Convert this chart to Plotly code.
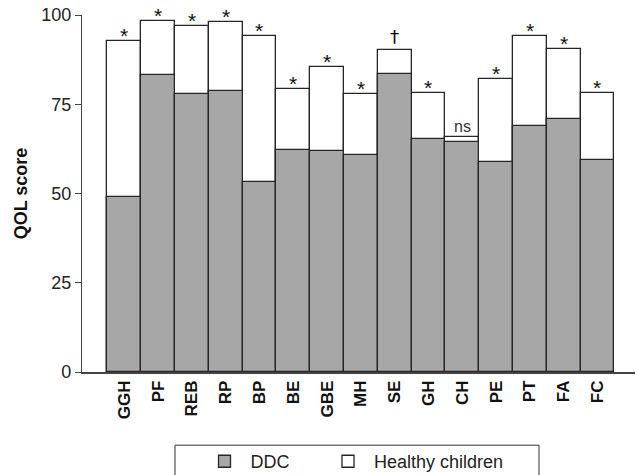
import plotly.graph_objects as go

categories = ["GGH", "PF", "REB", "RP", "BP", "BE", "GBE", "MH", "SE", "GH", "CH", "PE", "PT", "FA", "FC"]
ddc = [49.0, 83.2, 77.9, 78.6, 53.1, 62.2, 61.9, 60.8, 83.5, 65.4, 64.5, 58.9, 68.9, 70.9, 59.5]
healthy = [92.8, 98.4, 97.0, 98.1, 94.1, 79.4, 85.5, 77.9, 90.1, 78.1, 65.9, 82.1, 94.2, 90.5, 78.2]
signif = ["*", "*", "*", "*", "*", "*", "*", "*", "\u2020", "*", "ns", "*", "*", "*", "*"]

FONT = "Liberation Sans, Arial, Helvetica, sans-serif"
LINE = "#262626"

fig = go.Figure()
fig.add_trace(go.Bar(
    x=categories, y=healthy, name="Healthy children", legend="legend2",
    marker=dict(color="white", line=dict(color=LINE, width=1.3)),
    width=1,
))
fig.add_trace(go.Bar(
    x=categories, y=ddc, name="DDC", legend="legend",
    marker=dict(color="#a7a7a7", line=dict(color=LINE, width=1.3)),
    width=1,
))

for c, h, s in zip(categories, healthy, signif):
    if s == "*":
        fig.add_annotation(x=c, y=h, text=s, showarrow=False, yanchor="bottom",
                           yshift=-8, font=dict(size=21, color="#111", family=FONT))
    elif s == "ns":
        fig.add_annotation(x=c, y=h, text=s, showarrow=False, yanchor="bottom",
                           yshift=0, font=dict(size=16, color="#333", family=FONT))
    else:
        fig.add_annotation(x=c, y=h, text=s, showarrow=False, yanchor="bottom",
                           yshift=1, font=dict(size=18, color="#000", family="DejaVu Sans"))

# legend frame
fig.add_shape(type="rect", xref="paper", yref="paper",
              x0=0.1682, x1=0.8264, y0=-0.205, y1=-0.36,
              line=dict(color="#333", width=1), fillcolor="rgba(0,0,0,0)")

leg_common = dict(orientation="h", yanchor="top", y=-0.199, xanchor="left",
                  borderwidth=0, bgcolor="rgba(0,0,0,0)", itemwidth=42,
                  font=dict(size=18, family=FONT, color="#222"))

fig.update_layout(
    width=637, height=475,
    margin=dict(l=82, r=2, t=15, b=103, autoexpand=False),
    paper_bgcolor="white", plot_bgcolor="white",
    barmode="overlay", bargap=0,
    font=dict(family=FONT, color="#222"),
    showlegend=True,
    legend=dict(x=0.2107, **leg_common),
    legend2=dict(x=0.434, **leg_common),
    xaxis=dict(
        range=[-1.25, 15.11], showline=True, linecolor="#444", linewidth=1.5,
        ticks="", tickangle=-90, showgrid=False, zeroline=False, automargin=False,
        tickfont=dict(size=17, family="Liberation Sans, Arial", color="#111", weight="bold"),
    ),
    yaxis=dict(
        range=[0, 100], tickvals=[0, 25, 50, 75, 100], showline=True, linecolor="#444",
        linewidth=1.3, ticks="outside", ticklen=6, tickcolor="#444", showgrid=False,
        zeroline=False, automargin=False, tickfont=dict(size=18, family=FONT, color="#222"),
        title=dict(text="<b>QOL score</b>", font=dict(size=18, family=FONT, color="#111"), standoff=8),
    ),
)

fig.write_html("out.html", config={"displayModeBar": False},
               post_script="document.body.style.margin='0';document.body.style.overflow='hidden';")
